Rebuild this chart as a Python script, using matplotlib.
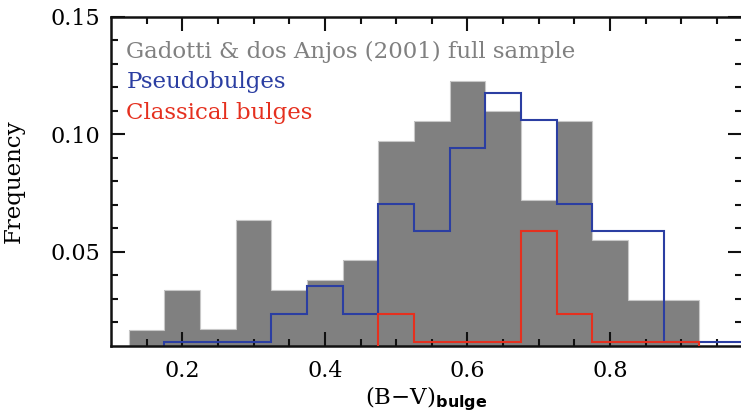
import numpy as np
import matplotlib
matplotlib.use("Agg")
import matplotlib.pyplot as plt

plt.rcParams['font.family'] = ['DejaVu Serif']
plt.rcParams['mathtext.fontset'] = 'custom'
plt.rcParams['mathtext.rm'] = 'DejaVu Serif'
plt.rcParams['mathtext.bf'] = 'DejaVu Sans:bold'

# Bin edges (B-V colour) and frequencies
full_edges = [0.125, 0.175, 0.225, 0.275, 0.325, 0.375, 0.425, 0.475, 0.525,
              0.575, 0.625, 0.675, 0.725, 0.775, 0.825, 0.875, 0.925]
full_freq = [0.0168, 0.0338, 0.0169, 0.0634, 0.0338, 0.0381, 0.0465, 0.0971,
             0.1056, 0.1226, 0.1099, 0.0720, 0.1056, 0.0549, 0.0296, 0.0296]

pseudo_edges = [0.175, 0.225, 0.275, 0.325, 0.375, 0.425, 0.475, 0.525, 0.575,
                0.625, 0.675, 0.725, 0.775, 0.825, 0.875, 0.925, 0.975, 1.025]
pseudo_freq = [0.0117, 0.0117, 0.0117, 0.0235, 0.0353, 0.0235, 0.0704, 0.0588,
               0.0941, 0.1176, 0.1059, 0.0704, 0.0588, 0.0588, 0.0117, 0.0117,
               0.0117]

classical_edges = [0.475, 0.525, 0.575, 0.625, 0.675, 0.725, 0.775, 0.825,
                   0.875, 0.925]
classical_freq = [0.0235, 0.0117, 0.0117, 0.0117, 0.0588, 0.0235, 0.0117,
                  0.0117, 0.0117]

labels = ["Gadotti & dos Anjos (2001) full sample", "Pseudobulges",
          "Classical bulges"]

GRAY = '#808080'
BLUE = '#2b3ea2'
RED = '#e5301f'

fig = plt.figure(figsize=(7.41, 4.13), dpi=100)
ax = fig.add_axes([0.1498, 0.163, 0.8515, 0.7966])

# full sample: filled histogram with a faint outline
ax.stairs(full_freq, full_edges, baseline=0, fill=True, color=GRAY,
          linewidth=0, zorder=1)
ax.stairs(full_freq, full_edges, baseline=0, color='#c8c8c8', linewidth=0.8,
          zorder=1.5)
ax.stairs(pseudo_freq, pseudo_edges, baseline=0, color=BLUE, linewidth=1.5,
          zorder=2)
ax.stairs(classical_freq, classical_edges, baseline=0, color=RED,
          linewidth=1.5, zorder=3)

ax.set_xlim(0.1, 0.985)
ax.set_ylim(0.01, 0.15)

ax.set_xticks([0.2, 0.4, 0.6, 0.8])
ax.set_xticklabels(['0.2', '0.4', '0.6', '0.8'])
ax.set_xticks(np.arange(0.15, 0.99, 0.05), minor=True)
ax.set_yticks([0.05, 0.10, 0.15])
ax.set_yticklabels(['0.05', '0.10', '0.15'])
ax.set_yticks(np.arange(0.02, 0.151, 0.01), minor=True)

ax.tick_params(which='both', direction='in', top=True, right=True,
               width=1.5, labelsize=16, color='#111111')
ax.tick_params(which='major', length=10, pad=8)
ax.tick_params(which='minor', length=5)
ax.tick_params(axis='x', which='major', pad=10)
for s in ax.spines.values():
    s.set_linewidth(1.8)
    s.set_color('#111111')

ax.set_ylabel('Frequency', fontsize=16.5, labelpad=18)
ax.set_xlabel('(B\u2212V)$_{\\mathbf{bulge}}$', fontsize=16.5, labelpad=2)

ys = [0.1324, 0.1197, 0.1065]
for txt, col, y in zip(labels, [GRAY, BLUE, RED], ys):
    ax.text(0.1215, y, txt, color=col, fontsize=16.5, va='baseline',
            ha='left', zorder=4)

fig.savefig('out.png', dpi=100)
